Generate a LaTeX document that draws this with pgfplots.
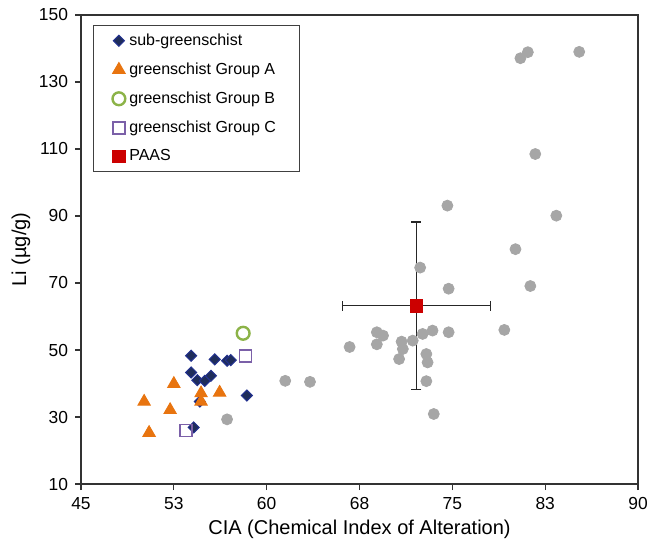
\documentclass[border=0pt]{standalone}
\usepackage{fontspec}
\setmainfont{Liberation Sans}
\usepackage{pgfplots}
\pgfplotsset{compat=1.18}
\definecolor{greypt}{HTML}{A6A6A6}
\definecolor{navyfill}{HTML}{1F2D5A}
\definecolor{navyedge}{HTML}{22318F}
\definecolor{orangeA}{HTML}{E8740F}
\definecolor{greenB}{HTML}{8CB348}
\definecolor{purpleC}{HTML}{7B60A8}
\definecolor{paasred}{HTML}{CC0000}

\begin{document}
\begin{tikzpicture}
\begin{axis}[
  name=ax,
  scale only axis, width=278.5pt, height=234.5pt,
  xmin=45, xmax=90, ymin=10, ymax=150,
  xtick={45,52.5,60,67.5,75,82.5,90},
  xticklabels={45,53,60,68,75,83,90},
  ytick={10,30,50,70,90,110,130,150},
  xtick pos=left, ytick pos=left, tick align=outside,
  major tick length=3pt,
  axis line style={black!80, line width=0.7pt},
  tick style={black!80, line width=0.6pt},
  /pgf/number format/assume math mode=true,
  tick label style={font=\fontsize{8.7}{10}\selectfont},
  label style={font=\fontsize{10.7}{12}\selectfont},
  xlabel={CIA (Chemical Index of Alteration)},
  ylabel={Li (µg/g)},
  every axis x label/.style={at={(rel axis cs:0.5,0)}, yshift=-22.5pt, anchor=center},
  every axis y label/.style={at={(rel axis cs:0,0.5)}, xshift=-30pt, rotate=90, anchor=center},
  legend cell align=left,
  legend style={at={(rel axis cs:0,1)}, anchor=north west,
    xshift=6pt, yshift=-5pt,
    draw=black!75, line width=0.5pt, inner xsep=9.5pt, inner ysep=2pt, row sep=3.2pt,
    font=\fontsize{8}{9.6}\selectfont},
  legend image code/.code={\draw[mark repeat=2,mark phase=2] plot coordinates {(0pt,0pt) (13pt,0pt) (20.5pt,0pt)};},
]
% altered sediments (no legend entry)
\addplot[only marks, mark=*, mark size=2.75pt, color=greypt, forget plot] coordinates {
(80.5,137.1) (81.1,138.9) (85.25,139.0) (81.7,108.5) (74.6,93.1) (83.4,90.1)
(80.1,80.1) (72.4,74.6) (74.7,68.3) (81.3,69.1) (79.2,56.0) (74.7,55.3)
(73.4,55.8) (72.6,54.8) (71.8,52.8) (70.9,52.5) (71.0,50.3) (70.7,47.3)
(72.9,48.8) (73.0,46.3) (68.9,55.3) (69.4,54.3) (68.9,51.7) (66.7,50.9)
(63.5,40.5) (61.5,40.8) (72.9,40.7) (73.5,30.9) (56.8,29.3)
};
\addplot[only marks, mark=square*, mark size=1.95pt,
  mark options={rotate=45, fill=navyfill, draw=navyedge, line width=0.5pt}] coordinates {
(53.9,48.3) (55.8,47.2) (56.8,46.8) (57.1,47.0) (53.9,43.3) (54.4,41.0)
(55.0,40.8) (55.5,42.3) (58.4,36.4) (54.6,34.6) (54.1,26.9)
};
\addlegendentry{sub-greenschist}
\addplot[only marks, mark=triangle*, mark size=3.6pt, color=orangeA] coordinates {
(52.5,39.9) (50.1,34.6) (52.2,32.1) (50.5,25.3) (54.7,37.1) (54.7,34.6) (56.2,37.3)
};
\addlegendentry{greenschist Group A}
\addplot[only marks, mark=o, mark size=3.2pt, color=greenB, mark options={line width=1.2pt}] coordinates {
(58.1,55.0)
};
\addlegendentry{greenschist Group B}
\addplot[only marks, mark=square, mark size=3pt, color=purpleC, mark options={line width=0.8pt}] coordinates {
(58.3,48.3) (53.5,26.0)
};
\addlegendentry{greenschist Group C}
\addplot[only marks, mark=square*, mark size=3.1pt, color=paasred,
  error bars/.cd, x dir=both, x explicit, y dir=both, y explicit,
  error bar style={black!85, line width=0.7pt},
  error mark options={black!85, mark size=2.5pt, line width=0.6pt, rotate=90}] coordinates {
(72.1,63.2) +- (6,25)
};
\addlegendentry{PAAS}
\end{axis}
\pgfresetboundingbox
\path[use as bounding box] ([xshift=-40.5pt,yshift=-31pt]ax.south west) rectangle ([xshift=8pt,yshift=7.5pt]ax.north east);
\end{tikzpicture}
\end{document}
